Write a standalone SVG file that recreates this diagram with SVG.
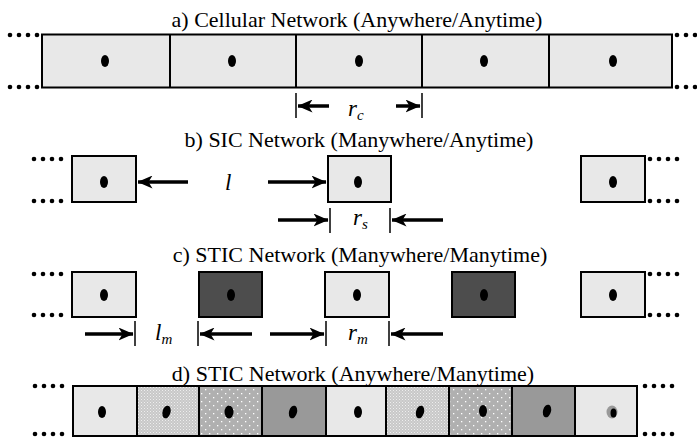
<svg xmlns="http://www.w3.org/2000/svg" width="697" height="437" viewBox="0 0 697 437">
<defs>
<style>
.t{font-family:"Liberation Serif","DejaVu Serif",serif;font-size:22px;fill:#000}
.i{font-family:"Liberation Serif","DejaVu Serif",serif;font-style:italic;font-size:23px;fill:#000}
.sub{font-size:15px}
.lt{fill:#e8e8e8;stroke:#000;stroke-width:2}
.dk{fill:#4d4d4d;stroke:#000;stroke-width:2}
.md{fill:#999;stroke:#000;stroke-width:2}
.fp{fill:url(#fine);stroke:#000;stroke-width:2}
.sp{fill:url(#sparse);stroke:#000;stroke-width:2}
.dot{fill:#000}
.ar{stroke:#000;stroke-width:3.5;fill:none;marker-end:url(#ah)}
.tick{stroke:#000;stroke-width:1.5}
</style>
<marker id="ah" viewBox="0 0 15 13" refX="14.5" refY="6.5" markerWidth="15" markerHeight="13" markerUnits="userSpaceOnUse" orient="auto">
<path d="M0,0 L15,6.5 L0,13 L4,6.5 z" fill="#000"/>
</marker>
<pattern id="fine" width="3" height="3" patternUnits="userSpaceOnUse">
<rect width="3" height="3" fill="#c8c8c8"/>
<rect x="0" y="0" width="1" height="1" fill="#eeeeee"/>
<rect x="1.5" y="1.5" width="1" height="1" fill="#e4e4e4"/>
</pattern>
<pattern id="sparse" width="8" height="8" patternUnits="userSpaceOnUse">
<rect width="8" height="8" fill="#b0b0b0"/>
<rect x="1" y="1" width="1.3" height="1.3" fill="#fff"/>
<rect x="5" y="5" width="1.3" height="1.3" fill="#fff"/>
</pattern>
<g id="dots4">
<circle cx="0" cy="0" r="2.3"/><circle cx="9" cy="0" r="2.3"/><circle cx="18" cy="0" r="2.3"/><circle cx="27" cy="0" r="2.3"/>
</g>
</defs>
<rect width="697" height="437" fill="#fff"/>

<!-- titles -->
<text class="t" x="357" y="27" text-anchor="middle">a) Cellular Network (Anywhere/Anytime)</text>
<text class="t" x="359" y="147" text-anchor="middle">b) SIC Network (Manywhere/Anytime)</text>
<text class="t" x="360" y="262" text-anchor="middle">c) STIC Network (Manywhere/Manytime)</text>
<text class="t" x="353" y="381" text-anchor="middle">d) STIC Network (Anywhere/Manytime)</text>

<!-- section a -->
<g id="a-row">
<rect x="42" y="34.5" width="630" height="53" fill="#e8e8e8" stroke="#000" stroke-width="2"/>
<g stroke="#000" stroke-width="2"><line x1="170" y1="34.5" x2="170" y2="87.5"/><line x1="296" y1="34.5" x2="296" y2="87.5"/><line x1="422" y1="34.5" x2="422" y2="87.5"/><line x1="549" y1="34.5" x2="549" y2="87.5"/></g>
<g class="dot"><ellipse cx="105" cy="61" rx="4" ry="6"/><ellipse cx="232" cy="61" rx="4" ry="6"/><ellipse cx="359" cy="61" rx="4" ry="6"/><ellipse cx="484" cy="61" rx="4" ry="6"/><ellipse cx="613" cy="61" rx="4" ry="6"/></g>
<use href="#dots4" x="10" y="35"/><use href="#dots4" x="10" y="87"/>
<use href="#dots4" x="677" y="35"/><use href="#dots4" x="677" y="87"/>
</g>

<!-- section b -->
<g id="b-cell1"><rect class="lt" x="72" y="156" width="64" height="46"/><ellipse class="dot" cx="104" cy="182" rx="4" ry="6"/></g>
<g id="b-cell2"><rect class="lt" x="328" y="156" width="63" height="46"/><ellipse class="dot" cx="358" cy="182" rx="4" ry="6"/></g>
<g id="b-cell3"><rect class="lt" x="581" y="156" width="64" height="46"/><ellipse class="dot" cx="613" cy="182" rx="4" ry="6"/></g>
<use href="#dots4" x="34" y="159"/><use href="#dots4" x="34" y="201"/>
<use href="#dots4" x="650" y="159"/><use href="#dots4" x="650" y="201"/>

<!-- section c -->
<g id="c-cell1"><rect class="lt" x="72" y="272" width="64" height="45"/><ellipse class="dot" cx="104" cy="295" rx="4" ry="6"/></g>
<g id="c-cell2"><rect class="dk" x="199" y="272" width="63" height="45"/><ellipse class="dot" cx="231" cy="295" rx="4" ry="6"/></g>
<g id="c-cell3"><rect class="lt" x="325" y="272" width="64" height="45"/><ellipse class="dot" cx="357" cy="295" rx="4" ry="6"/></g>
<g id="c-cell4"><rect class="dk" x="452" y="272" width="63" height="45"/><ellipse class="dot" cx="484" cy="295" rx="4" ry="6"/></g>
<g id="c-cell5"><rect class="lt" x="581" y="272" width="64" height="45"/><ellipse class="dot" cx="613" cy="295" rx="4" ry="6"/></g>
<use href="#dots4" x="34" y="274"/><use href="#dots4" x="34" y="315"/>
<use href="#dots4" x="650" y="274"/><use href="#dots4" x="650" y="315"/>

<!-- section d -->
<g id="d-row">
<rect class="lt" x="73" y="386" width="64" height="50"/>
<rect class="fp" x="137" y="386" width="62" height="50"/>
<rect class="sp" x="199" y="386" width="63" height="50"/>
<rect class="md" x="262" y="386" width="64" height="50"/>
<rect class="lt" x="326" y="386" width="60" height="50"/>
<rect class="fp" x="386" y="386" width="63" height="50"/>
<rect class="sp" x="449" y="386" width="63" height="50"/>
<rect class="md" x="512" y="386" width="63" height="50"/>
<rect class="lt" x="575" y="386" width="62" height="50"/>
<g class="dot">
<ellipse cx="102" cy="412" rx="4" ry="6"/>
<ellipse cx="166.5" cy="412" rx="4" ry="6.5" transform="rotate(15 166.5 412)"/>
<ellipse cx="229" cy="412" rx="4.5" ry="6.5"/>
<ellipse cx="293" cy="412" rx="4" ry="6.5" transform="rotate(15 293 412)"/>
<ellipse cx="358" cy="412" rx="4" ry="6"/>
<ellipse cx="420" cy="412" rx="4" ry="6.5" transform="rotate(15 420 412)"/>
<ellipse cx="483" cy="411" rx="4" ry="6"/>
<ellipse cx="547" cy="411" rx="4" ry="6.5" transform="rotate(15 547 411)"/>
</g>
<ellipse cx="612" cy="412" rx="5.5" ry="6.5" fill="#999"/>
<ellipse cx="613.5" cy="413" rx="3" ry="4.5" fill="#000"/>
<use href="#dots4" x="35" y="386"/><use href="#dots4" x="35" y="434"/>
<use href="#dots4" x="645" y="386"/><use href="#dots4" x="645" y="434"/>
</g>

<!-- connectors / dimension arrows -->
<g id="connectors">
<line class="tick" x1="296" y1="93" x2="296" y2="118"/>
<line class="tick" x1="422" y1="93" x2="422" y2="118"/>
<line class="ar" x1="329" y1="106" x2="298" y2="106"/>
<line class="ar" x1="396" y1="106" x2="420" y2="106"/>

<line class="ar" x1="188" y1="182" x2="138" y2="182"/>
<line class="ar" x1="268" y1="182" x2="326" y2="182"/>

<line class="tick" x1="330" y1="208" x2="330" y2="233"/>
<line class="tick" x1="390" y1="208" x2="390" y2="233"/>
<line class="ar" x1="278" y1="220" x2="328" y2="220"/>
<line class="ar" x1="443" y1="220" x2="392" y2="220"/>

<line class="tick" x1="135" y1="321" x2="135" y2="346"/>
<line class="tick" x1="198" y1="321" x2="198" y2="346"/>
<line class="tick" x1="326" y1="321" x2="326" y2="346"/>
<line class="tick" x1="389" y1="321" x2="389" y2="346"/>
<line class="ar" x1="85" y1="334" x2="133" y2="334"/>
<line class="ar" x1="252" y1="334" x2="200" y2="334"/>
<line class="ar" x1="270" y1="334" x2="324" y2="334"/>
<line class="ar" x1="443" y1="334" x2="391" y2="334"/>
</g>

<!-- dimension labels -->
<text class="i" x="348" y="116">r<tspan class="sub" dy="4">c</tspan></text>
<text class="i" x="225" y="190">l</text>
<text class="i" x="353" y="225">r<tspan class="sub" dy="4">s</tspan></text>
<text class="i" x="155" y="340">l<tspan class="sub" dy="4">m</tspan></text>
<text class="i" x="348" y="340">r<tspan class="sub" dy="4">m</tspan></text>
</svg>
